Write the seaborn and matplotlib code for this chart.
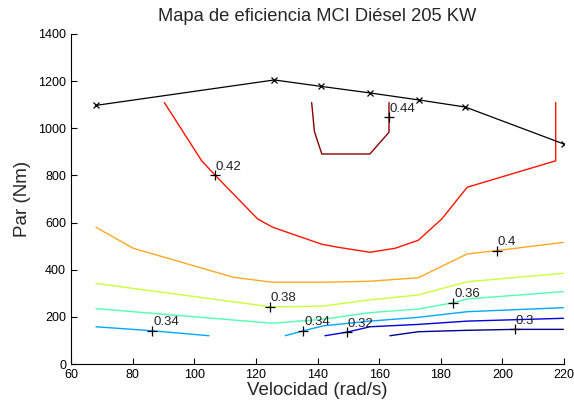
import matplotlib
matplotlib.use("Agg")
import matplotlib.pyplot as plt
import seaborn as sns
import pandas as pd

sns.set_theme(style="ticks")
plt.rcParams["font.family"] = ["Liberation Sans", "DejaVu Sans"]

# Maximum torque curve
max_speed = [68, 126, 141, 157, 173, 188, 220]
max_torque = [1097, 1205, 1178, 1150, 1120, 1090, 933]

# Efficiency iso-lines (speed, torque) per level
eff_levels = [0.30, 0.32, 0.34, 0.34, 0.36, 0.38, 0.40, 0.42, 0.44]
eff_speed = [
    [163.5, 172.7, 188.6, 204.1, 219.8],
    [142.4, 149.5, 157.0, 172.7, 188.6, 219.8],
    [68.1, 86.4, 104.8],
    [129.5, 135.4, 141.9, 157.0, 172.7, 188.6, 219.8],
    [68.1, 125.3, 141.9, 157.0, 172.7, 184.1, 188.6, 219.8],
    [68.1, 124.6, 131.0, 141.9, 157.0, 172.7, 188.6, 219.8],
    [68.1, 80.2, 112.7, 125.3, 141.9, 157.0, 172.7, 188.6, 198.2, 219.8],
    [90.3, 102.4, 106.7, 120.6, 125.5, 141.4, 146.8, 157.0, 165.2, 172.7, 180.3, 188.6, 217.3, 217.3],
    [138.1, 139.0, 141.4, 157.0, 163.2, 163.2],
]
eff_torque = [
    [120, 137, 143, 147, 147],
    [120, 135, 158, 168, 182, 194],
    [158, 141, 120],
    [120, 141, 162, 182, 198, 222, 239],
    [235, 173, 190, 218, 233, 260, 276, 307],
    [342, 243, 243, 246, 272, 293, 349, 385],
    [580, 491, 368, 347, 347, 351, 366, 467, 481, 516],
    [1109, 862, 802, 615, 580, 508, 495, 474, 491, 525, 615, 750, 862, 1109],
    [1109, 986, 891, 891, 983, 1109],
]
level_colors = {
    0.30: "#00008f",
    0.32: "#0000e0",
    0.34: "#00a8ff",
    0.36: "#50ffb0",
    0.38: "#c8ff38",
    0.40: "#ffa820",
    0.42: "#ff1400",
    0.44: "#900000",
}

# Inline label positions
label_speed = [204.1, 149.5, 86.4, 135.4, 184.1, 124.6, 198.2, 106.7, 163.2]
label_torque = [147, 135, 141, 141, 260, 243, 481, 802, 1047]
label_text = ["0.3", "0.32", "0.34", "0.34", "0.36", "0.38", "0.4", "0.42", "0.44"]

fig = plt.figure(figsize=(5.74, 4.08), dpi=100)
ax = fig.add_axes([0.1237, 0.1078, 0.8589, 0.8089])

for lvl, xs, ys in zip(eff_levels, eff_speed, eff_torque):
    df = pd.DataFrame({"w": xs, "T": ys})
    sns.lineplot(data=df, x="w", y="T", sort=False, estimator=None,
                 color=level_colors[lvl], linewidth=1.0, ax=ax)

df_max = pd.DataFrame({"w": max_speed, "T": max_torque})
sns.lineplot(data=df_max, x="w", y="T", sort=False, estimator=None,
             color="black", linewidth=0.9, marker="x", markersize=4.5,
             markeredgewidth=0.9, markeredgecolor="black", ax=ax)

for sx, ty, txt in zip(label_speed, label_torque, label_text):
    ax.plot(sx, ty, marker="+", color="black", markersize=6.5, markeredgewidth=0.9)
    ax.text(sx + 0.3, ty + 10, txt, fontsize=9.5, color="#222222",
            ha="left", va="bottom")

ax.set_xlim(60, 220)
ax.set_ylim(0, 1400)
ax.set_xticks(range(60, 221, 20))
ax.set_yticks(range(0, 1401, 200))
ax.tick_params(direction="in", length=4, width=0.8, labelsize=9, colors="black")
for side in ("top", "right"):
    ax.spines[side].set_visible(False)
for side in ("left", "bottom"):
    ax.spines[side].set_linewidth(0.8)
    ax.spines[side].set_color("black")

ax.set_xlabel("Velocidad (rad/s)", fontsize=13.5, labelpad=1)
ax.set_ylabel("Par (Nm)", fontsize=13.5, labelpad=5)
ax.set_title("Mapa de eficiencia MCI Diésel 205 KW", fontsize=13.2, pad=9.5)

fig.savefig("out.png", dpi=100)
